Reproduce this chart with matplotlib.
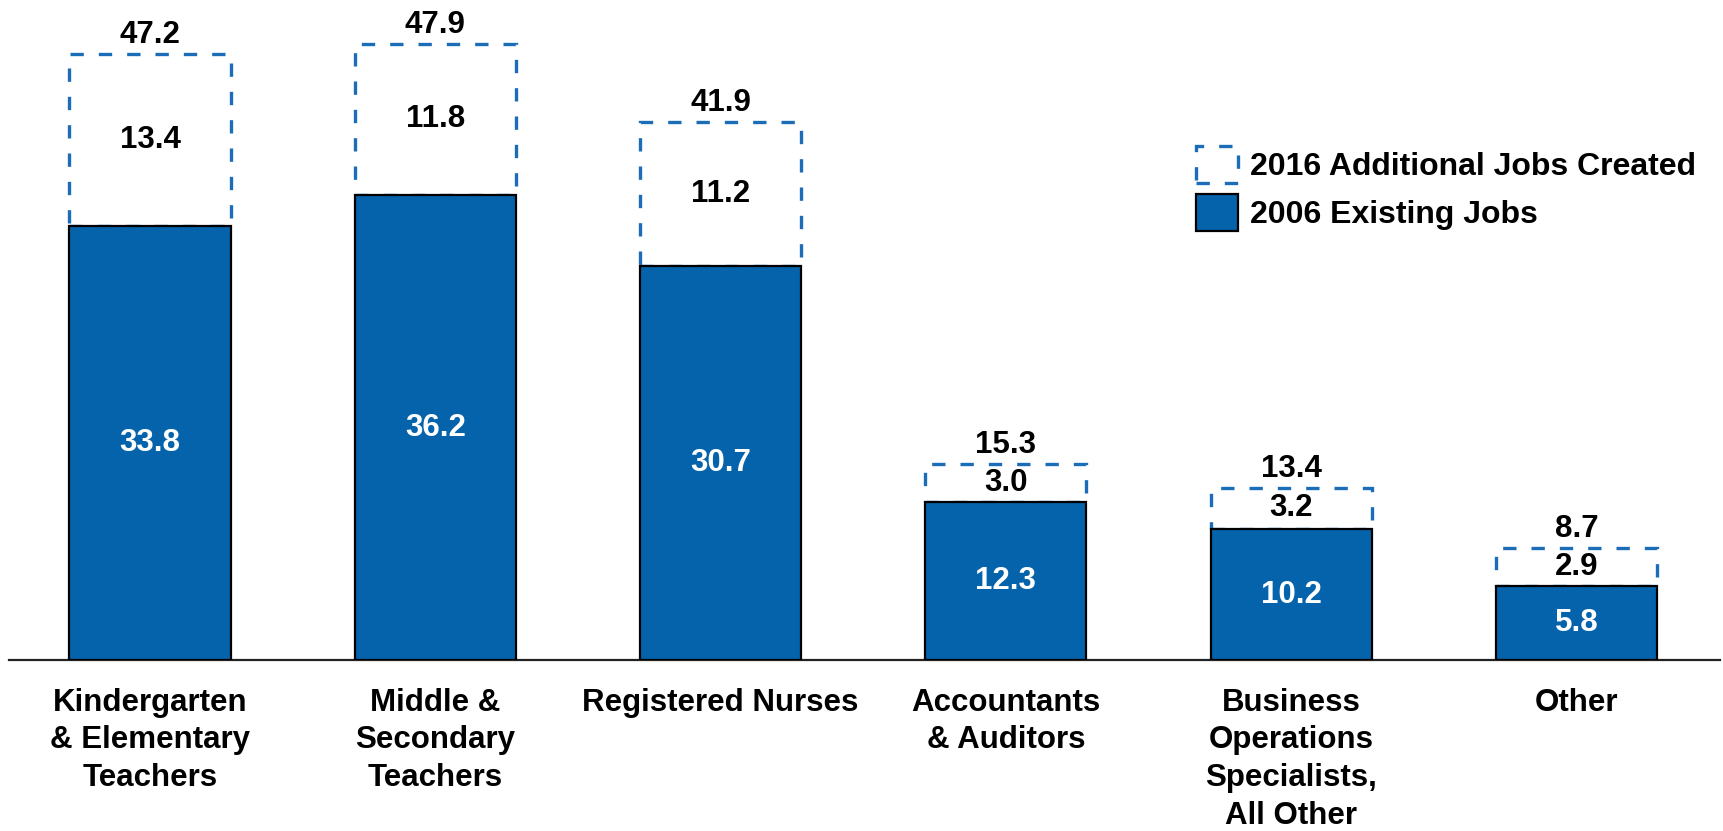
import matplotlib.pyplot as plt
from matplotlib.patches import Patch
import numpy as np

plt.rcParams['font.family'] = ['Liberation Sans', 'DejaVu Sans']
plt.rcParams['font.weight'] = 'bold'

categories = ['Kindergarten\n& Elementary\nTeachers', 'Middle &\nSecondary\nTeachers',
              'Registered Nurses', 'Accountants\n& Auditors',
              'Business\nOperations\nSpecialists,\nAll Other', 'Other']
existing = np.array([33.8, 36.2, 30.7, 12.3, 10.2, 5.8])
additional = np.array([13.4, 11.8, 11.2, 3.0, 3.2, 2.9])
totals = [47.2, 47.9, 41.9, 15.3, 13.4, 8.7]

fill = '#0563AB'
dash_col = '#1C6DB8'
fs = 22.5

fig = plt.figure(figsize=(17.23, 8.31), dpi=100)
ax = fig.add_axes([9 / 1723, 171 / 831, 1711 / 1723, 660 / 831])

x = np.arange(len(categories))
w = 0.565
ax.bar(x, existing, width=w, color=fill, edgecolor='black', linewidth=1.6, zorder=3)
ax.bar(x, additional, width=w, bottom=existing, color='none', edgecolor=dash_col,
       linewidth=2.4, linestyle=(0, (4, 4.5)), zorder=2)

for i in range(len(x)):
    ax.text(x[i], existing[i] / 2, f'{existing[i]:.1f}', ha='center', va='center',
            color='white', fontsize=fs, fontweight='bold', zorder=4)
    ax.text(x[i], existing[i] + additional[i] / 2, f'{additional[i]:.1f}', ha='center',
            va='center', color='black', fontsize=fs, fontweight='bold', zorder=4)
    ax.text(x[i], existing[i] + additional[i] + 0.3, f'{totals[i]:.1f}', ha='center',
            va='bottom', color='black', fontsize=fs, fontweight='bold', zorder=4)

ax.set_xlim(-0.494, 5.503)
ax.set_ylim(0, 51.4)
ax.set_xticks(x)
ax.set_xticklabels(categories, fontsize=fs, fontweight='bold', linespacing=1.33)
ax.tick_params(axis='x', length=0, pad=20)
ax.set_yticks([])
for s in ['top', 'left', 'right']:
    ax.spines[s].set_visible(False)
ax.spines['bottom'].set_linewidth(1.6)
ax.spines['bottom'].set_color('#222222')

handles = [Patch(facecolor='none', edgecolor=dash_col, linewidth=2.4, linestyle=(0, (4, 4.5))),
           Patch(facecolor=fill, edgecolor='black', linewidth=1.6)]
ax.legend(handles, ['2016 Additional Jobs Created', '2006 Existing Jobs'],
          loc='upper left', bbox_to_anchor=(1196 / 1723, 1 - 146 / 831),
          bbox_transform=fig.transFigure, frameon=False,
          handlelength=1.3, handleheight=1.4, handletextpad=0.4,
          labelspacing=0.35, borderpad=0, borderaxespad=0,
          prop={'weight': 'bold', 'size': 23})

fig.savefig('out.png', dpi=100)
